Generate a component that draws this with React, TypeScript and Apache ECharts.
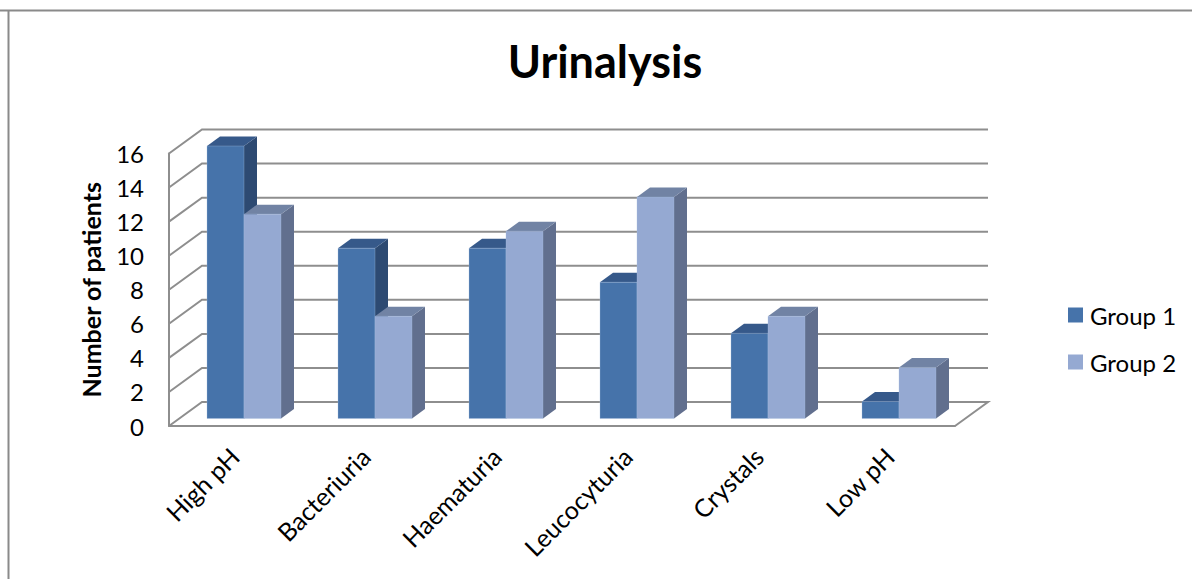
import React, { useEffect, useRef } from "react";
import * as echarts from "echarts";

const categories = ["High pH", "Bacteriuria", "Haematuria", "Leucocyturia", "Crystals", "Low pH"];
const group1 = [16, 10, 10, 8, 5, 1];
const group2 = [12, 6, 11, 13, 6, 3];
const ticks = [0, 2, 4, 6, 8, 10, 12, 14, 16];

const FONT = "Lato, 'Open Sans', sans-serif";
const GRID = "#8e8e8e";
const WALL_DX = 33;
const WALL_DY = 24;
const BAR_W = 37;
const OFF_X = 9.5;
const OFF_Y = 7.5;
const SIDE_X = 13;
const SIDE_Y = 9.5;

const barRenderer = (slot: number, front: string, top: string, side: string) => (_p: any, api: any) => {
  const base = api.coord([api.value(0), 0]);
  const head = api.coord([api.value(0), api.value(1)]);
  const x0 = base[0] + OFF_X + (slot - 1) * BAR_W;
  const x1 = x0 + BAR_W;
  const yb = base[1] - OFF_Y;
  const yt = head[1] - OFF_Y;
  const edge = { stroke: "rgba(170,190,225,0.55)", lineWidth: 0.6 };
  return {
    type: "group",
    children: [
      { type: "polygon", shape: { points: [[x1, yt], [x1 + SIDE_X, yt - SIDE_Y], [x1 + SIDE_X, yb - SIDE_Y], [x1, yb]] }, style: { fill: side } },
      { type: "polygon", shape: { points: [[x0, yt], [x0 + SIDE_X, yt - SIDE_Y], [x1 + SIDE_X, yt - SIDE_Y], [x1, yt]] }, style: { fill: top } },
      { type: "rect", shape: { x: x0, y: yt, width: BAR_W, height: yb - yt }, style: { fill: front, ...edge } },
    ],
  };
};

const wallRenderer = (p: any, api: any) => {
  const v = api.value(1);
  const y = api.coord([0, v])[1];
  const cs = p.coordSys;
  const left = cs.x;
  const right = cs.x + cs.width;
  const pts: number[][] = [[left, y], [left + WALL_DX, y - WALL_DY], [right + WALL_DX, y - WALL_DY]];
  if (v === 0) pts.push([right, y]);
  return { type: "polyline", shape: { points: pts }, style: { stroke: GRID, lineWidth: 2, fill: "none" } };
};

export default function App() {
  const ref = useRef<HTMLDivElement>(null);
  useEffect(() => {
    const chart = echarts.init(ref.current!, null, { renderer: "svg" });
    chart.setOption({
      animation: false,
      backgroundColor: "#ffffff",
      title: {
        text: "Urinalysis",
        left: 600,
        top: 33,
        textAlign: "center",
        textStyle: { fontFamily: FONT, fontSize: 45, fontWeight: "bold", color: "#000" },
      },
      graphic: [
        { type: "line", shape: { x1: 0, y1: 10.5, x2: 1192, y2: 10.5 }, style: { stroke: "#8a8a8a", lineWidth: 2 } },
        { type: "line", shape: { x1: 8.5, y1: 10, x2: 8.5, y2: 579 }, style: { stroke: "#8a8a8a", lineWidth: 2 } },
      ],
      legend: {
        orient: "vertical",
        left: 1063,
        top: 298,
        icon: "rect",
        itemWidth: 15,
        itemHeight: 15,
        itemGap: 23,
        data: ["Group 1", "Group 2"],
        textStyle: { fontFamily: FONT, fontSize: 24, color: "#000", padding: [0, 0, 0, 2] },
      },
      grid: { left: 169, top: 153.5, width: 786, height: 272.5 },
      xAxis: {
        type: "category",
        data: categories,
        axisTick: { show: false },
        axisLine: { lineStyle: { color: GRID, width: 2 } },
        axisLabel: { rotate: 45, interval: 0, margin: 26, fontFamily: FONT, fontSize: 25, color: "#000" },
      },
      yAxis: {
        type: "value",
        min: 0,
        max: 16,
        interval: 2,
        name: "Number of patients",
        nameLocation: "middle",
        nameGap: 66,
        nameTextStyle: { fontFamily: FONT, fontSize: 25, fontWeight: "bold", color: "#000" },
        splitLine: { show: false },
        axisTick: { show: false },
        axisLine: { show: true, lineStyle: { color: GRID, width: 2 } },
        axisLabel: { margin: 25, fontFamily: FONT, fontSize: 24, color: "#000" },
      },
      series: [
        {
          type: "custom",
          name: "walls",
          renderItem: wallRenderer,
          data: ticks.map((t) => [0, t]),
          encode: { x: 0, y: 1 },
          clip: false,
          silent: true,
          z: 1,
        },
        {
          type: "custom",
          name: "Group 1",
          renderItem: barRenderer(0, "#4673AA", "#36598A", "#2D4A72"),
          data: group1.map((v, i) => [i, v]),
          encode: { x: 0, y: 1 },
          itemStyle: { color: "#4673AA" },
          clip: false,
          z: 2,
        },
        {
          type: "custom",
          name: "Group 2",
          renderItem: barRenderer(1, "#95A9D2", "#7183A4", "#616F8E"),
          data: group2.map((v, i) => [i, v]),
          encode: { x: 0, y: 1 },
          itemStyle: { color: "#95A9D2" },
          clip: false,
          z: 3,
        },
      ],
    });
    return () => chart.dispose();
  }, []);
  return <div ref={ref} style={{ position: "fixed", left: 0, top: 0, width: 1192, height: 579 }} />;
}
